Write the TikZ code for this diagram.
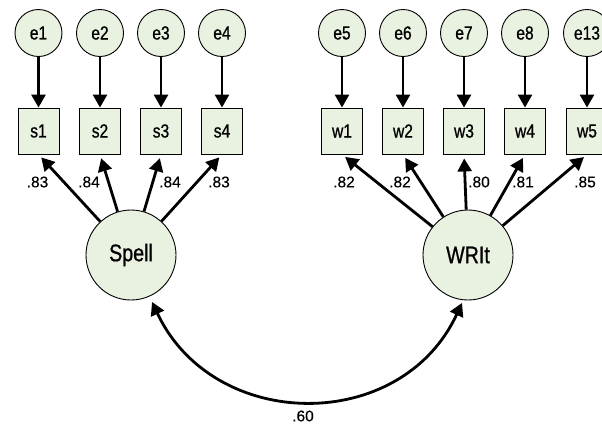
\documentclass[tikz,border=0pt]{standalone}
\usepackage{fontspec}
\setmainfont{Liberation Sans}
\newfontfamily\condfont[FakeStretch=0.82,FakeBold=0.8]{Liberation Sans}
\newfontfamily\lblfont[FakeBold=0.3]{Liberation Sans}
\usetikzlibrary{arrows.meta}
\definecolor{nodefill}{RGB}{233,241,224}
\tikzset{
  errnode/.style={circle, draw=black, line width=0.9pt, fill=nodefill, minimum size=47pt, inner sep=0pt, font=\condfont\fontsize{19}{22}\selectfont},
  obsnode/.style={rectangle, draw=black, line width=0.9pt, fill=nodefill, minimum width=41pt, minimum height=46pt, inner sep=0pt, font=\condfont\fontsize{19}{22}\selectfont},
  latnode/.style={circle, draw=black, line width=0.9pt, fill=nodefill, minimum size=90pt, inner sep=0pt, font=\condfont\fontsize{24}{27}\selectfont},
  arr/.style={line width=2.8pt, -{Triangle[length=13pt,width=14pt]}},
  covarr/.style={line width=2.8pt, {Triangle[length=13pt,width=14pt]}-{Triangle[length=13pt,width=14pt]}},
  loadlbl/.style={font=\lblfont\fontsize{15.5}{18}\selectfont, inner sep=0pt}
}
\begin{document}
\begin{tikzpicture}[x=1pt,y=-1pt]
\path[use as bounding box, clip] (0,0) rectangle (602,424);
% error terms
\node[errnode] (e1) at (38.5,33) {e1};
\node[errnode] (e2) at (100,33) {e2};
\node[errnode] (e3) at (161,33) {e3};
\node[errnode] (e4) at (222,33) {e4};
\node[errnode] (e5) at (342,33) {e5};
\node[errnode] (e6) at (403,33) {e6};
\node[errnode] (e7) at (464,33) {e7};
\node[errnode] (e8) at (525,33) {e8};
\node[errnode] (e13) at (587,33) {e13};
% observed
\node[obsnode] (s1) at (38.5,131) {s1};
\node[obsnode] (s2) at (100,131) {s2};
\node[obsnode] (s3) at (161,131) {s3};
\node[obsnode] (s4) at (222,131) {s4};
\node[obsnode] (w1) at (342,131) {w1};
\node[obsnode] (w2) at (403,131) {w2};
\node[obsnode] (w3) at (464,131) {w3};
\node[obsnode] (w4) at (525,131) {w4};
\node[obsnode] (w5) at (587,131) {w5};
% latent
\node[latnode] (Spell) at (131,255) {Spell};
\node[latnode] (WRIt) at (468,255) {WRIt};
% error arrows
\foreach \e/\o in {e1/s1,e2/s2,e3/s3,e4/s4,e5/w1,e6/w2,e7/w3,e8/w4,e13/w5}
  \draw[arr] (\e) -- (\o);
% loadings
\foreach \o in {s1,s2,s3,s4}
  \draw[arr, shorten >=4pt] (Spell) -- (\o.south);
\foreach \o in {w1,w2,w3,w4,w5}
  \draw[arr, shorten >=4pt] (WRIt) -- (\o.south);
% loading labels
\node[loadlbl] (l1) at (37.5,182) {.83};
\node[loadlbl] (l2) at (89,182) {.84};
\node[loadlbl] (l3) at (170,182) {.84};
\node[loadlbl] (l4) at (219,182) {.83};
\node[loadlbl] (l5) at (344,182) {.82};
\node[loadlbl] (l6) at (400,182) {.82};
\node[loadlbl] (l7) at (479,182) {.80};
\node[loadlbl] (l8) at (523,182) {.81};
\node[loadlbl] (l9) at (585,182) {.85};
% covariance
\draw[covarr, shorten <=6pt, shorten >=3pt] (Spell.-66) .. controls +(64,136) and +(-62,134) .. (WRIt.-96);
\node[loadlbl] (cov) at (303,416) {.60};
\end{tikzpicture}
\end{document}
